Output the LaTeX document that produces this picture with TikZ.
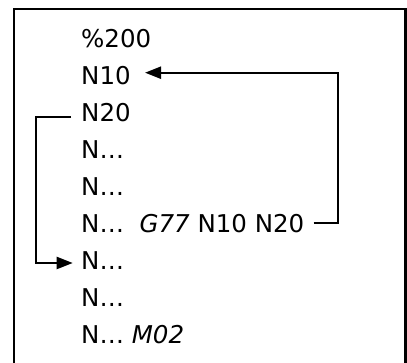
\documentclass[tikz,border=0pt]{standalone}
\usepackage{fontspec}
\setmainfont{DejaVu Sans}
\usetikzlibrary{arrows.meta}
\begin{document}
\begin{tikzpicture}[x=1pt,y=-1pt,
  code/.style={anchor=base west,inner sep=0pt,font=\fontsize{24.5}{26}\selectfont},
  conn/.style={line width=2.2pt},
  tip/.style={-{Triangle[length=16pt,width=12pt]}}]
\useasboundingbox (0,0) rectangle (407,363);
\clip (0,0) rectangle (407,363);
\draw[line width=2.4pt] (14,380) -- (14,9) -- (405.5,9) -- (405.5,380);
\node[code] (r1) at (81,48) {\%200};
\node[code] (r2) at (81,85) {N10};
\node[code] (r3) at (81,122) {N20};
\node[code] (r4) at (81,159) {N…};
\node[code] (r5) at (81,196) {N…};
\node[code] (r6) at (81,233) {N…\ \ \textit{G77} N10 N20};
\node[code] (r7) at (81,270) {N…};
\node[code] (r8) at (81,307) {N…};
\node[code] (r9) at (81,344) {N… \textit{M02}};
\coordinate (a1) at (338.3,223.3);
\coordinate (a2) at (145,72.7);
\coordinate (b1) at (36,117);
\coordinate (b2) at (72.7,263);
\draw[conn,tip] ([xshift=9pt]r6.east|-a1) -| (a1) |- (a2);
\draw[conn,tip] ([xshift=-10pt]r3.west|-b1) -| (b1) |- (b2);
\end{tikzpicture}
\end{document}
